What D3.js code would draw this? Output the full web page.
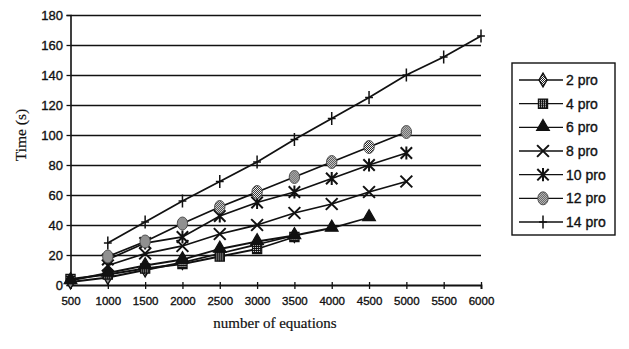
<!DOCTYPE html>
<html>
<head>
<meta charset="utf-8">
<script src="https://cdn.jsdelivr.net/npm/d3@7"></script>
<style>
  html, body { margin: 0; padding: 0; background: #fff; }
  svg { display: block; }
</style>
</head>
<body>
<svg id="chart" width="629" height="349"></svg>
<script>
// Number of equations on the x axis
const equations = [500, 1000, 1500, 2000, 2500, 3000, 3500, 4000, 4500, 5000, 5500, 6000];
const timeTicks = [0, 20, 40, 60, 80, 100, 120, 140, 160, 180];

// Solve time (s) per processor count; each series starts at the given equation count
const seriesNames = ["2 pro", "4 pro", "6 pro", "8 pro", "10 pro", "12 pro", "14 pro"];
const seriesStart = [500, 500, 500, 1000, 1000, 1000, 1000];
const pro2  = [2, 5, 10, 15, 21, 27, 33];
const pro4  = [4, 7, 11, 14, 19, 24, 32];
const pro6  = [3, 8, 13, 17, 24, 29, 33, 38, 45];
const pro8  = [13, 21, 26, 34, 40, 48, 54, 62, 69];
const pro10 = [17, 28, 32, 46, 55, 62, 71, 80, 88];
const pro12 = [19, 29, 41, 52, 62, 72, 82, 92, 102];
const pro14 = [28, 42, 56, 69, 82, 97, 111, 125, 140, 152, 166];
const seriesValues = [pro2, pro4, pro6, pro8, pro10, pro12, pro14];
const seriesMarker = ["diamond", "square", "triangle", "x", "star", "dither", "plus"];

const series = seriesNames.map((name, i) => ({
  name,
  marker: seriesMarker[i],
  points: seriesValues[i].map((v, j) => ({ x: seriesStart[i] + 500 * j, y: v }))
}));

const svg = d3.select("#chart");
const ink = "#111";
const sans = "Liberation Sans, Arial, sans-serif";
const serif = "Liberation Serif, Times New Roman, serif";

// Slightly heavy text, as in a printed figure
function inkText(sel, family, size) {
  sel.attr("font-family", family).attr("font-size", size)
    .attr("fill", ink).attr("stroke", ink).attr("stroke-width", 0.35);
}

// Dither fills
const defs = svg.append("defs");
const light = defs.append("pattern").attr("id", "ditherLight")
  .attr("width", 2).attr("height", 2).attr("patternUnits", "userSpaceOnUse");
light.append("rect").attr("width", 2).attr("height", 2).attr("fill", "#fff");
light.append("rect").attr("width", 1).attr("height", 1).attr("fill", "#222");
light.append("rect").attr("x", 1).attr("y", 1).attr("width", 1).attr("height", 1).attr("fill", "#222");
const dark = defs.append("pattern").attr("id", "ditherDark")
  .attr("width", 2).attr("height", 2).attr("patternUnits", "userSpaceOnUse");
dark.append("rect").attr("width", 2).attr("height", 2).attr("fill", "#111");
dark.append("rect").attr("width", 1).attr("height", 1).attr("fill", "#ddd");

const x = d3.scaleLinear().domain([500, 6000]).range([70.5, 481]);
const y = d3.scaleLinear().domain([0, 180]).range([285, 15]);

// Horizontal gridlines
svg.append("g")
  .attr("transform", `translate(${x(500)},0)`)
  .call(d3.axisLeft(y).tickValues(timeTicks.slice(1)).tickSize(-(x(6000) - x(500))).tickFormat(""))
  .call(g => g.select(".domain").remove())
  .call(g => g.selectAll("line").attr("stroke", ink).attr("stroke-width", 1.6));

// Y axis
svg.append("g")
  .attr("transform", `translate(${x(500)},0)`)
  .call(d3.axisLeft(y).tickValues(timeTicks).tickSize(4).tickPadding(3.5))
  .call(g => g.select(".domain").attr("stroke", ink).attr("stroke-width", 1.6))
  .call(g => g.selectAll("line").attr("stroke", ink).attr("stroke-width", 1.3))
  .call(g => g.selectAll("text").call(inkText, sans, 13));

// X axis
svg.append("g")
  .attr("transform", `translate(0,${y(0)})`)
  .call(d3.axisBottom(x).tickValues(equations).tickSize(4).tickPadding(8).tickFormat(d3.format("d")))
  .call(g => g.select(".domain").attr("stroke", ink).attr("stroke-width", 1.8))
  .call(g => g.selectAll(".tick line").attr("y1", -3).attr("stroke", ink).attr("stroke-width", 1.3))
  .call(g => g.selectAll("text").call(inkText, sans, 11.5));

// Axis titles
svg.append("text")
  .attr("transform", "translate(26,135) rotate(-90)")
  .attr("text-anchor", "middle")
  .call(inkText, serif, 15.5).attr("stroke-width", 0.2)
  .text("Time (s)");
svg.append("text")
  .attr("x", 275).attr("y", 328)
  .attr("text-anchor", "middle")
  .call(inkText, serif, 15).attr("stroke-width", 0.2)
  .text("number of equations");

// Marker shapes as d3 symbol types
const xSym = { draw(c, s) { const r = Math.sqrt(s) / 2;
  c.moveTo(-r, -r); c.lineTo(r, r); c.moveTo(-r, r); c.lineTo(r, -r); } };
const starSym = { draw(c, s) { const r = Math.sqrt(s) / 2;
  c.moveTo(-r, -r); c.lineTo(r, r); c.moveTo(-r, r); c.lineTo(r, -r);
  c.moveTo(0, -r * 1.15); c.lineTo(0, r * 1.15); } };
const plusSym = { draw(c, s) { const r = Math.sqrt(s) / 2;
  c.moveTo(0, -r); c.lineTo(0, r); c.moveTo(-r * 0.6, 0); c.lineTo(r * 0.6, 0); } };

function drawMarker(sel, kind) {
  switch (kind) {
    case "diamond":
      sel.append("path").attr("d", d3.symbol(d3.symbolDiamond, 55)())
        .attr("fill", "url(#ditherLight)").attr("stroke", ink).attr("stroke-width", 1.4);
      break;
    case "square":
      sel.append("path").attr("d", d3.symbol(d3.symbolSquare, 85)())
        .attr("fill", "url(#ditherDark)").attr("stroke", ink).attr("stroke-width", 1.2);
      break;
    case "triangle":
      sel.append("path").attr("d", d3.symbol(d3.symbolTriangle, 70)())
        .attr("transform", "translate(0,-0.5)")
        .attr("fill", ink).attr("stroke", ink).attr("stroke-width", 1.2);
      break;
    case "x":
      sel.append("path").attr("d", d3.symbol(xSym, 140)())
        .attr("fill", "none").attr("stroke", ink).attr("stroke-width", 2);
      break;
    case "star":
      sel.append("path").attr("d", d3.symbol(starSym, 130)())
        .attr("fill", "none").attr("stroke", ink).attr("stroke-width", 2);
      break;
    case "dither":
      sel.append("ellipse").attr("rx", 5.2).attr("ry", 6.5)
        .attr("fill", "url(#ditherLight)").attr("stroke", "#444").attr("stroke-width", 0.9);
      break;
    case "plus":
      sel.append("path").attr("d", d3.symbol(plusSym, 170)())
        .attr("fill", "none").attr("stroke", ink).attr("stroke-width", 1.5);
      break;
  }
}

const line = d3.line().x(d => x(d.x)).y(d => y(d.y));

// Series lines, then markers on top
const plot = svg.append("g");
series.forEach(s => {
  plot.append("path").datum(s.points).attr("d", line)
    .attr("fill", "none").attr("stroke", ink).attr("stroke-width", 1.8);
});
series.forEach(s => {
  plot.selectAll(null).data(s.points).join("g")
    .attr("transform", d => `translate(${x(d.x)},${y(d.y)})`)
    .each(function () { drawMarker(d3.select(this), s.marker); });
});

// Legend
const legend = svg.append("g");
legend.append("rect")
  .attr("x", 512).attr("y", 63).attr("width", 103).attr("height", 172)
  .attr("fill", "#fff").attr("stroke", ink).attr("stroke-width", 1.4);
const ly = d3.scalePoint().domain(seriesNames).range([80, 222]);
series.forEach(s => {
  const row = legend.append("g").attr("transform", `translate(0,${ly(s.name)})`);
  row.append("line").attr("x1", 519).attr("x2", 563).attr("y1", 0).attr("y2", 0)
    .attr("stroke", ink).attr("stroke-width", 1.3);
  drawMarker(row.append("g").attr("transform", "translate(543,0)"), s.marker);
  row.append("text").attr("x", 566).attr("y", 0).attr("dy", "0.36em")
    .call(inkText, sans, 14)
    .text(s.name);
});
</script>
</body>
</html>
